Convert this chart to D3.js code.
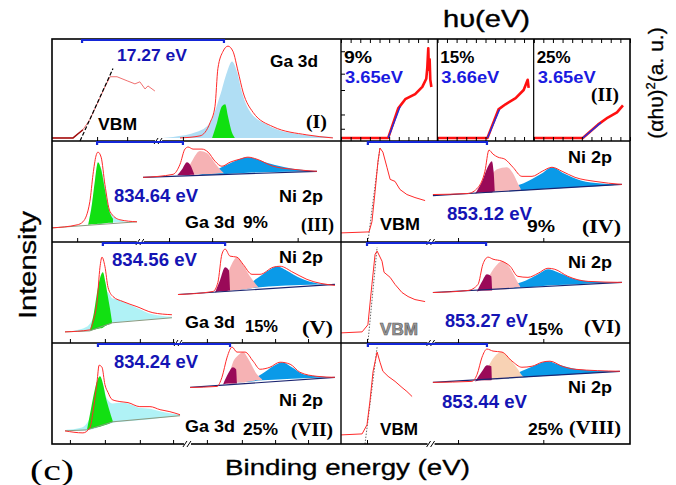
<!DOCTYPE html>
<html>
<head>
<meta charset="utf-8">
<script src="https://cdn.jsdelivr.net/npm/d3@7"></script>
<style>
  body { margin: 0; background: #fff; }
  svg { display: block; }
</style>
</head>
<body>
<div id="chart"></div>
<script>
// ---- data (positions in panel units 0-100, intensities 0-100) ----

// panel (I): undoped VBM + Ga 3d
const p1Vbm = [[0,3],[7.3,3],[10.7,11],[13.1,21],[15.9,38],[18.3,53],[20.1,63],[22.5,63],[26,59],[28.7,56],[30.4,58],[32.2,51],[33.2,54],[35.6,49]];
const p1VbmFit = [[9.7,0],[21.1,71]];
const p1Ga = [[44.3,3],[51.2,5],[54.7,18],[56.4,34],[57.4,71],[59.2,88],[60.9,93],[62.6,88],[64.4,68],[66.1,48],[69.6,28],[76.5,14],[88.2,6],[97.2,3]];
const p1GaBlue = [[38.4,3,3],[41.9,3,4],[50.2,3,9],[54.7,3,18],[58.1,3,44],[60.6,3,68],[62.3,3,78],[64,3,68],[65.7,3,48],[68.5,3,29],[74.4,3,16],[82.4,3,8],[97.2,3,4]];
const p1GaGreen = [[55.4,3,3],[57.1,3,18],[58.8,3,34],[59.9,3,36],[60.9,3,24],[62.3,3,8],[63.3,3,3]];

// panel (II): Tauc plots
const p2Doping = ["9%", "15%", "25%"];
const p2Gap = ["3.65eV", "3.66eV", "3.65eV"];
const p2Tauc9 = [[0,3],[49,3],[59.4,32],[66.7,41],[77,46],[84.4,53],[88.5,61],[89.6,72],[90.6,91],[91.2,70],[92,80],[92.7,60],[93.8,53]];
const p2Tauc15 = [[0,3],[52,3],[63.5,31],[70.8,36],[81.3,42],[89.6,50],[93.8,60],[94.8,52]];
const p2Tauc25 = [[0,3],[51,3],[66.7,16],[77,23],[86.5,28],[92.7,35]];
const p2Fit9 = [[49,3],[61.5,34]];
const p2Fit15 = [[52,3],[64.6,31]];
const p2Fit25 = [[51,3],[69.8,18]];
const p2LeftTicks = [12, 26, 50, 66, 88];

// panel (III): 9% Ga 3d + Ni 2p
const p3GaLine = [[0,14],[8.7,17],[10.7,20],[13.1,40],[14.2,67],[15.2,85],[15.9,89],[17,84],[18.3,57],[20.1,30],[23.5,22],[29.4,20]];
const p3GaBase = [[0,14],[29.4,20]];
const p3GaGreen = [[12.5,17,17],[13.8,17.5,37],[14.9,17.5,62],[15.9,18,79],[17,18,72],[18.3,18.5,52],[19.7,19,32],[21.1,19,23]];
const p3GaCyan = [[13,17.5,24],[15.2,18,60],[16.6,18,75],[18.3,18.5,55],[20.1,19,30],[22.5,19.5,23],[26,20,20]];
const p3NiLine = [[31.5,64],[41.9,67],[44.3,77],[46,92],[47.1,94],[48.8,92],[51.9,92],[54,89],[56.4,80],[58.8,75],[61.6,79],[65,82],[67.8,84],[70.9,82],[76.5,75],[83.4,72],[91.7,70]];
const p3NiBase = [[31.5,64],[91.7,70]];
const p3NiMaroon = [[43.3,66,66],[45,66,72],[46.7,66,79],[48.1,66.5,75],[49.2,66.5,67]];
const p3NiPink = [[46,66,66],[48.8,66.5,82],[51.2,67,90],[53.6,67,88],[56.4,67.5,78],[58.1,68,72],[59.5,68,68]];
const p3NiBlue = [[50.2,66,66],[56.4,66.5,71],[61.6,67.5,78],[67.8,68.5,84],[73.7,69,79],[80.6,69.5,74],[91.7,70,70]];

// panel (IV): 9% VBM + Ni 2p
const p4Vbm = [[0,9],[9.7,10],[10.7,20],[11.8,50],[12.8,80],[13.5,93],[14.5,89],[15.9,74],[17,62],[18.7,60],[20.4,52],[22.8,47],[25.6,44],[29.1,41]];
const p4VbmFit = [[9.3,0],[13.5,94]];
const p4NiLine = [[31.8,47],[43.9,48],[47.4,54],[49.8,70],[51.2,91],[52.6,87],[54.3,84],[56.7,82],[59.5,74],[62.6,65],[66.1,65],[69.6,70],[73,74],[76.5,70],[81,64],[87.9,60],[97.2,57]];
const p4NiBase = [[31.8,46],[97.2,57]];
const p4NiMaroon = [[46.4,48,48],[48.8,49,60],[50.9,49,75],[52.2,49,80],[52.8,50,70],[53.2,50,50]];
const p4NiPink = [[48.8,49,50],[51.2,49,62],[54,50,72],[57.4,50,74],[59.5,51,68],[61.2,51,58],[62.3,52,52]];
const p4NiBlue = [[48.8,49,49],[56.4,50,53],[63,51,58],[69.6,52.5,68],[73,53,74],[77,53.5,68],[83,54.5,61],[90,55.5,58],[97.2,57,57]];

// panel (V): 15% Ga 3d + Ni 2p
const p5GaLine = [[4.5,11],[13.1,13],[14.2,21],[15.6,41],[16.6,75],[17.3,85],[18.3,76],[19.4,55],[21.1,46],[24.6,41],[29.4,36],[34.9,30],[41.5,28]];
const p5GaBase = [[4.5,11],[13.1,12],[20.8,20],[41.5,25]];
const p5GaGreen = [[13.1,12,12],[14.5,13,30],[15.9,14,55],[17.6,15,70],[18.5,17,60],[19.4,18,45],[20.4,19,28],[20.8,20,20]];
const p5GaCyan = [[7,11,12],[12,12,16],[15,13.5,30],[17.5,15.5,55],[19.4,18,50],[21,20,44],[23,20.5,43],[26,21.5,39],[30,22.5,34],[34,23.5,29],[41.5,25,26]];
const p5NiLine = [[43.6,48],[55.7,51],[57.4,60],[58.8,88],[59.9,93],[61.6,86],[64,85],[66.1,78],[69.2,68],[72,68],[76.5,75],[78.9,76],[83.4,70],[88.2,63],[97.9,57]];
const p5NiBase = [[43.6,48],[97.9,58]];
const p5NiMaroon = [[56.4,50,50],[58.1,51,62],[59.9,51,75],[61.2,52,72],[61.6,52,52]];
const p5NiPink = [[58.8,51,52],[61,51,70],[62.5,52,80],[64,52,85],[66,53,78],[68.5,54,66],[70.6,55,58],[71.5,55,55]];
const p5NiBlue = [[60.6,51,51],[66,53,55],[71,55,64],[75,56,72],[77.9,56.5,76],[81,57,72],[86,57.5,64],[92,58,59],[97.9,58,58]];

// panel (VI): 15% VBM + Ni 2p
const p6Vbm = [[0,10],[7.3,11],[9.3,18],[10.7,58],[11.8,88],[12.5,91],[14.2,81],[14.9,70],[17,65],[18.7,58],[21.1,50],[23.2,46],[25.6,43],[29.1,41]];
const p6VbmFit = [[9.3,0],[12.5,95]];
const p6NiLine = [[31.8,50],[43.9,52],[47.4,58],[49.1,78],[50.9,85],[52.6,83],[55.7,81],[58.5,76],[61.2,66],[64.7,65],[68.2,69],[71.6,74],[74,73],[78.5,66],[85.5,61],[97.2,60]];
const p6NiBase = [[31.8,50],[97.2,60]];
const p6NiMaroon = [[47,51,51],[49,52,62],[50.5,52,68],[52,52,66],[52.3,52,53]];
const p6NiPink = [[48.8,52,53],[51,52,65],[53.5,53,76],[55.7,53,81],[58.5,54,74],[60.8,55,62],[62,55,56]];
const p6NiBlue = [[52.2,53,53],[58.5,54,57],[64,55,62],[68.2,56,68],[71.6,57,73],[75,57.5,70],[80,58,64],[86,59,61],[97.2,60,60]];

// panel (VII): 25% Ga 3d + Ni 2p
const p7GaLine = [[4.5,13],[10.7,11],[13.1,16],[14.2,32],[15.6,62],[16.3,78],[17.3,76],[18.3,59],[19.4,51],[20.8,44],[23.5,42],[26.3,41],[30.4,37],[33.9,37],[37.4,34],[40.8,32],[44.3,29]];
const p7GaBase = [[4.5,13],[12.1,14],[21.1,22],[44.3,28]];
const p7GaGreen = [[12.1,14,14],[13.5,15,35],[14.9,16,55],[16.6,17,67],[17.6,18,60],[18.7,19,45],[19.7,20,35],[21.1,22,22]];
const p7GaCyan = [[5,13,14],[10,13,16],[13,14,25],[15.6,16,50],[17.5,18,58],[19,19,45],[21,21,40],[24,22,41],[26.3,22.5,40],[30,23.5,36],[34,24.5,35],[38,26,32],[44.3,28,29]];
const p7NiLine = [[47.8,56],[57.1,57],[58.8,66],[60.6,86],[62.3,96],[64,91],[66.8,91],[69.6,82],[72,74],[75.4,76],[78.9,81],[82.4,79],[85.8,71],[91.7,67],[97.9,66]];
const p7NiBase = [[47.8,56],[97.9,66]];
const p7NiMaroon = [[59.2,59,59],[61,60,70],[62.6,60,76],[63.7,60,74],[64,60,60]];
const p7NiPink = [[60.6,60,61],[62.5,60,80],[64.5,61,88],[66.1,61,91],[68,62,84],[70.9,63,69],[72.7,63,64]];
const p7NiBlue = [[64,61,61],[69,62,64],[73,63,70],[76.5,63.5,77],[79.6,64,81],[83,64.5,76],[87,65,69],[92,65.5,67],[97.9,66,66]];

// panel (VIII): 25% VBM + Ni 2p
const p8Vbm = [[0,9],[7.3,10],[9,19],[10,42],[11.1,72],[12.5,91],[13.5,81],[14.5,72],[16.3,67],[18.7,62],[21.1,56],[22.8,52],[24.6,47]];
const p8VbmFit = [[8.3,0],[12.5,96]];
const p8NiLine = [[31.8,61],[45.3,62],[47.1,69],[48.8,86],[50.5,94],[52.6,92],[55.7,91],[59.2,82],[62.6,76],[66.1,77],[69.6,81],[72.3,82],[76.5,77],[81,74],[96.5,72]];
const p8NiBase = [[31.8,61],[96.5,72]];
const p8NiMaroon = [[46.4,62,62],[48.8,63,72],[50.5,63,78],[52,63,77],[52.2,64,64]];
const p8NiPeach = [[48.8,63,64],[51.2,63,78],[53.6,64,88],[55.7,64,91],[58.5,65,84],[61.2,65,74],[62.6,66,68],[63.5,66,66]];
const p8NiBlue = [[53.3,64,64],[59,65,68],[64,66,74],[68,67,79],[71.6,67.5,82],[75,68,79],[80,69,75],[86,70,73],[96.5,72,72]];

// band-gap brackets (I, III, IV, V, VI, VII, VIII) and their values
const gapSpans = [[10.4,59.5],[15.6,45.3],[9.3,50.5],[17.6,59.9],[9,50.2],[15.9,61.6],[9.3,50.5]];
const gapLabels = ["17.27 eV", "834.64 eV", "853.12 eV", "834.56 eV", "853.27 eV", "834.24 eV", "853.44 eV"];
const panelNames = ["(I)", "(II)", "(III)", "(IV)", "(V)", "(VI)", "(VII)", "(VIII)"];

// axis ticks on the row borders
const leftTicks = [[15.6,26,45.3],[8.7,23.5,40.5,55.4,69.2,85],[6.2,18.3,30.4,41.9,53.6,65.7,77.2,88.6],[6.2,18.3,30.4,41.9,53.6,65.7,77.2,88.6]];
const leftBreaks = [36.7, 30.4, 43.6, 46.7];
const rightTicks = [9, 40.5, 70];
const rightBreak = 31;

// ---- layout ----
const width = 676, height = 485;
const colX = [52, 341, 630];
const rowY = [39, 141, 242, 343, 444];
const sans = "'Liberation Sans', Arial, sans-serif";
const serif = "'Liberation Serif', 'Times New Roman', serif";
const red = "#ff2a2a", gapBlue = "#1414b4";

const svg = d3.select("#chart").append("svg")
    .attr("width", width)
    .attr("height", height);

function frame(col, row) {
    return {
        x: d3.scaleLinear().domain([0, 100]).range([colX[col], colX[col + 1]]),
        y: d3.scaleLinear().domain([0, 100]).range([rowY[row + 1], rowY[row]])
    };
}

function drawLine(s, data, color, w, curve, dash) {
    const line = d3.line().x(d => s.x(d[0])).y(d => s.y(d[1])).curve(curve || d3.curveLinear);
    const p = svg.append("path").datum(data)
        .attr("d", line).attr("fill", "none")
        .attr("stroke", color).attr("stroke-width", w)
        .attr("stroke-linejoin", "round");
    if (dash) p.attr("stroke-dasharray", dash);
    return p;
}

function drawArea(s, data, color) {
    const area = d3.area().x(d => s.x(d[0])).y0(d => s.y(d[1])).y1(d => s.y(d[2]))
        .curve(d3.curveMonotoneX);
    svg.append("path").datum(data).attr("d", area).attr("fill", color);
}

function txt(x, y, str, o) {
    o = o || {};
    const t = svg.append("text").attr("x", x).attr("y", y).text(str)
        .attr("font-family", o.serif ? serif : sans)
        .attr("font-size", o.size || 16)
        .attr("font-weight", o.weight || "bold")
        .attr("fill", o.fill || "#000");
    if (o.len) t.attr("textLength", o.len).attr("lengthAdjust", "spacingAndGlyphs");
    if (o.anchor) t.attr("text-anchor", o.anchor);
    return t;
}

// panel (I)
const s1 = frame(0, 0);
drawArea(s1, p1GaBlue, "#b0def4");
drawArea(s1, p1GaGreen, "#10e010");
drawLine(s1, p1Ga, red, 1, d3.curveMonotoneX);
drawLine(s1, p1Vbm, "#f07070", 1);
drawLine(s1, p1Vbm.slice(0, 3), "#a01010", 1.5);
drawLine(s1, p1VbmFit, "#000", 1.2, null, "4,2");

// panel (II)
const tauc = [p2Tauc9, p2Tauc15, p2Tauc25];
const taucFit = [p2Fit9, p2Fit15, p2Fit25];
const subW = (colX[2] - colX[1]) / 3;
tauc.forEach((data, i) => {
    const s = {
        x: d3.scaleLinear().domain([0, 100]).range([colX[1] + i * subW, colX[1] + (i + 1) * subW]),
        y: d3.scaleLinear().domain([0, 100]).range([rowY[1], rowY[0]])
    };
    drawLine(s, data, "#ff1010", 2.6);
    drawLine(s, taucFit[i], "#2030e0", 1.4);
    svg.append("g").attr("transform", `translate(0,${rowY[0]})`)
        .call(d3.axisTop(s.x).tickValues(d3.range(0, 101, 10)).tickSize(-4).tickFormat(""))
        .call(g => g.select(".domain").remove());
    svg.append("g").attr("transform", `translate(0,${rowY[1]})`)
        .call(d3.axisBottom(s.x).tickValues(d3.range(0, 101, 10)).tickSize(-4).tickFormat(""))
        .call(g => g.select(".domain").remove());
    if (i === 0) {
        svg.append("g").attr("transform", `translate(${colX[1]},0)`)
            .call(d3.axisLeft(s.y).tickValues(p2LeftTicks).tickSize(-4).tickFormat(""))
            .call(g => g.select(".domain").remove());
    }
    const x0 = colX[1] + i * subW;
    txt(x0 + 3, 63, p2Doping[i], { size: 16, len: i ? 34 : 28 });
    txt(x0 + 4, 83, p2Gap[i], { size: 16, fill: "#1a1ae0", len: 58 });
    if (i > 0) {
        svg.append("line").attr("x1", x0).attr("x2", x0)
            .attr("y1", rowY[0]).attr("y2", rowY[1])
            .attr("stroke", "#000").attr("stroke-width", 1.2);
    }
});

// Ga 3d panels (III, V, VII)
const gaPanels = [
    { row: 1, line: p3GaLine, base: p3GaBase, green: p3GaGreen, cyan: p3GaCyan },
    { row: 2, line: p5GaLine, base: p5GaBase, green: p5GaGreen, cyan: p5GaCyan },
    { row: 3, line: p7GaLine, base: p7GaBase, green: p7GaGreen, cyan: p7GaCyan }
];
gaPanels.forEach(p => {
    const s = frame(0, p.row);
    drawArea(s, p.cyan, "#b0f2f6");
    drawArea(s, p.green, "#12e012");
    drawLine(s, p.base, "#8a9a80", 1);
    drawLine(s, p.line, red, 1, d3.curveMonotoneX);
});

// Ni 2p panels
const niPanels = [
    { col: 0, row: 1, line: p3NiLine, base: p3NiBase, c1: p3NiMaroon, c2: p3NiPink, c3: p3NiBlue, c2color: "#f6b2b4" },
    { col: 1, row: 1, line: p4NiLine, base: p4NiBase, c1: p4NiMaroon, c2: p4NiPink, c3: p4NiBlue, c2color: "#f6b8ba" },
    { col: 0, row: 2, line: p5NiLine, base: p5NiBase, c1: p5NiMaroon, c2: p5NiPink, c3: p5NiBlue, c2color: "#f6b2b4" },
    { col: 1, row: 2, line: p6NiLine, base: p6NiBase, c1: p6NiMaroon, c2: p6NiPink, c3: p6NiBlue, c2color: "#f6baba" },
    { col: 0, row: 3, line: p7NiLine, base: p7NiBase, c1: p7NiMaroon, c2: p7NiPink, c3: p7NiBlue, c2color: "#f6b2b4" },
    { col: 1, row: 3, line: p8NiLine, base: p8NiBase, c1: p8NiMaroon, c2: p8NiPeach, c3: p8NiBlue, c2color: "#f8d2b4" }
];
niPanels.forEach(p => {
    const s = frame(p.col, p.row);
    drawArea(s, p.c3, "#0a9ae8");
    drawArea(s, p.c2, p.c2color);
    drawArea(s, p.c1, "#9a0a58");
    drawLine(s, p.base, "#1a2470", 1.2);
    drawLine(s, p.line, red, 1, d3.curveMonotoneX);
});

// VBM panels (IV, VI, VIII)
const vbmPanels = [
    { row: 1, line: p4Vbm, fit: p4VbmFit },
    { row: 2, line: p6Vbm, fit: p6VbmFit },
    { row: 3, line: p8Vbm, fit: p8VbmFit }
];
vbmPanels.forEach(p => {
    const s = frame(1, p.row);
    drawLine(s, p.fit, "#666", 1, null, "1.5,1.5");
    drawLine(s, p.line, red, 1);
});

// frame lines
svg.append("rect").attr("x", colX[0]).attr("y", rowY[0])
    .attr("width", colX[2] - colX[0]).attr("height", rowY[4] - rowY[0])
    .attr("fill", "none").attr("stroke", "#000").attr("stroke-width", 1.6);
svg.append("line").attr("x1", colX[1]).attr("x2", colX[1]).attr("y1", rowY[0]).attr("y2", rowY[4])
    .attr("stroke", "#000").attr("stroke-width", 1.4);
rowY.slice(1, 4).forEach(y => {
    svg.append("line").attr("x1", colX[0]).attr("x2", colX[2]).attr("y1", y).attr("y2", y)
        .attr("stroke", "#000").attr("stroke-width", 1.4);
});

// ticks and axis breaks on each row border
function breakMark(x, y) {
    svg.append("line").attr("x1", x - 3).attr("x2", x + 4).attr("y1", y).attr("y2", y)
        .attr("stroke", "#fff").attr("stroke-width", 3);
    [-2, 2].forEach(dx => {
        svg.append("line").attr("x1", x + dx - 2).attr("x2", x + dx + 2)
            .attr("y1", y + 3).attr("y2", y - 3)
            .attr("stroke", "#000").attr("stroke-width", 1);
    });
}
leftTicks.forEach((ticks, r) => {
    const s = frame(0, r);
    svg.append("g").attr("transform", `translate(0,${rowY[r + 1]})`)
        .call(d3.axisBottom(s.x).tickValues(ticks).tickSize(-4).tickFormat(""))
        .call(g => g.select(".domain").remove());
    breakMark(s.x(leftBreaks[r]), rowY[r + 1]);
});
[1, 2, 3].forEach(r => {
    const s = frame(1, r);
    svg.append("g").attr("transform", `translate(0,${rowY[r + 1]})`)
        .call(d3.axisBottom(s.x).tickValues(rightTicks).tickSize(-4).tickFormat(""))
        .call(g => g.select(".domain").remove());
    breakMark(s.x(rightBreak), rowY[r + 1]);
});

// band-gap brackets on panel tops
const bracketCells = [[0, 0], [0, 1], [1, 1], [0, 2], [1, 2], [0, 3], [1, 3]];
gapSpans.forEach((span, i) => {
    const s = frame(bracketCells[i][0], bracketCells[i][1]);
    const y = rowY[bracketCells[i][1]] + 1;
    const x1 = s.x(span[0]), x2 = s.x(span[1]);
    svg.append("path")
        .attr("d", `M${x1},${y + 3}V${y}H${x2}V${y + 3}`)
        .attr("fill", "none").attr("stroke", "#1426d8").attr("stroke-width", 2.2);
});

// panel texts
txt(117, 61, gapLabels[0], { size: 17, fill: gapBlue, len: 70 });
txt(270, 67, "Ga 3d", { size: 16, len: 48 });
txt(98, 130, "VBM", { size: 16, len: 39 });
txt(306, 128, panelNames[0], { size: 19, serif: true, len: 21 });
txt(591, 101, panelNames[1], { size: 19, serif: true, len: 28 });

txt(114, 202, gapLabels[1], { size: 18, fill: gapBlue, len: 84 });
txt(279, 202, "Ni 2p", { size: 17, len: 44 });
txt(185, 228, "Ga 3d", { size: 16, len: 50 });
txt(243, 228, p2Doping[0], { size: 16, len: 25 });
txt(301, 231, panelNames[2], { size: 19, serif: true, len: 33 });

txt(568, 163, "Ni 2p", { size: 17, len: 44 });
txt(380, 230, "VBM", { size: 17, len: 40 });
txt(447, 220, gapLabels[2], { size: 18, fill: gapBlue, len: 85 });
txt(527, 232, p2Doping[0], { size: 16, len: 28 });
txt(582, 233, panelNames[3], { size: 19, serif: true, len: 39 });

txt(112, 266, gapLabels[3], { size: 18, fill: gapBlue, len: 85 });
txt(279, 263, "Ni 2p", { size: 17, len: 44 });
txt(185, 328, "Ga 3d", { size: 16, len: 50 });
txt(245, 332, p2Doping[1], { size: 16, len: 33 });
txt(302, 334, panelNames[4], { size: 19, serif: true, len: 31 });

txt(568, 268, "Ni 2p", { size: 17, len: 44 });
txt(380, 335, "VBM", { size: 17, len: 38, fill: "#9a9a9a" }).attr("stroke", "#555").attr("stroke-width", 0.6);
txt(445, 327, gapLabels[4], { size: 18, fill: gapBlue, len: 83 });
txt(528, 335, p2Doping[1], { size: 16, len: 35 });
txt(584, 333, panelNames[5], { size: 19, serif: true, len: 37 });

txt(114, 368, gapLabels[5], { size: 18, fill: gapBlue, len: 84 });
txt(279, 406, "Ni 2p", { size: 17, len: 44 });
txt(185, 432, "Ga 3d", { size: 16, len: 50 });
txt(243, 435, p2Doping[2], { size: 16, len: 35 });
txt(291, 436, panelNames[6], { size: 19, serif: true, len: 42 });

txt(568, 393, "Ni 2p", { size: 17, len: 44 });
txt(442, 408, gapLabels[6], { size: 18, fill: gapBlue, len: 85 });
txt(380, 435, "VBM", { size: 17, len: 38 });
txt(528, 435, p2Doping[2], { size: 16, len: 35 });
txt(569, 434, panelNames[7], { size: 19, serif: true, len: 52 });

// outer labels
txt(443, 27, "hυ(eV)", { size: 24, weight: "normal", len: 87 }).attr("stroke", "#000").attr("stroke-width", 0.4);
txt(225, 475, "Binding energy (eV)", { size: 22, weight: "normal", len: 245 }).attr("stroke", "#000").attr("stroke-width", 0.3);
txt(30, 480, "(c)", { size: 30, weight: "normal", serif: true, len: 44 });

svg.append("text")
    .attr("transform", "translate(36,265) rotate(-90)")
    .attr("text-anchor", "middle")
    .attr("font-family", sans).attr("font-size", 23)
    .attr("stroke", "#000").attr("stroke-width", 0.3)
    .attr("textLength", 108).attr("lengthAdjust", "spacingAndGlyphs")
    .text("Intensity");

const tauLabel = svg.append("text")
    .attr("transform", "translate(663,83) rotate(-90)")
    .attr("text-anchor", "middle")
    .attr("font-family", sans).attr("font-size", 21)
    .attr("stroke", "#000").attr("stroke-width", 0.3);
tauLabel.append("tspan").text("(αhυ)");
tauLabel.append("tspan").attr("font-size", 13).attr("dy", -8).text("2");
tauLabel.append("tspan").attr("dy", 8).text("(a. u.)");
</script>
</body>
</html>
